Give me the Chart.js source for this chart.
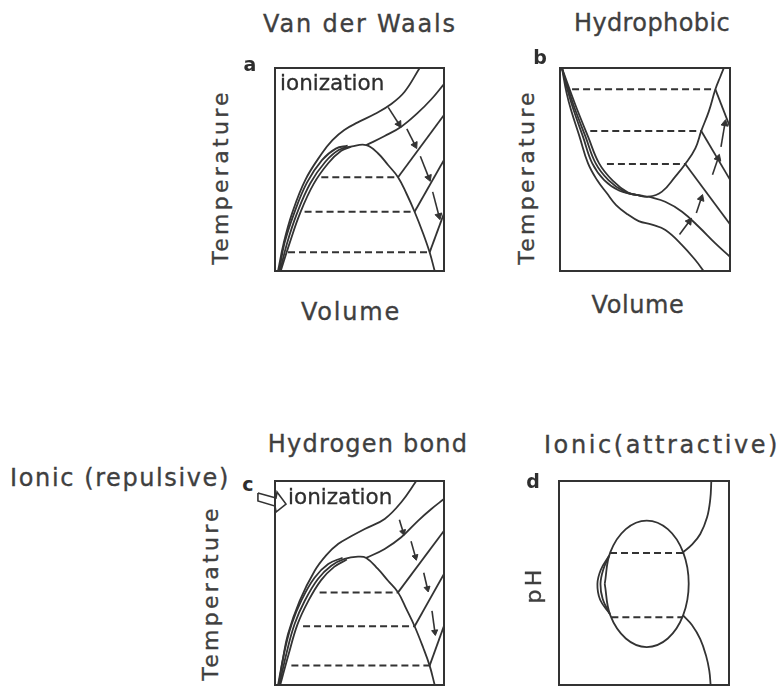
<!DOCTYPE html>
<html>
<head>
<meta charset="utf-8">
<title>Phase diagrams by interaction type</title>
<script src="https://cdn.jsdelivr.net/npm/chart.js"></script>
<style>
  body { margin: 0; width: 782px; height: 687px; position: relative; overflow: hidden; background: #fff;
         font-family: "DejaVu Sans", sans-serif; color: #3f3f3f; }
  canvas { position: absolute; }
  .t { position: absolute; transform: translate(-50%, -50%); white-space: nowrap; line-height: 1; font-size: 24px;
       -webkit-text-stroke: 0.35px #3f3f3f; }
  .r { transform: translate(-50%, -50%) rotate(-90deg); font-size: 22px; letter-spacing: 3.3px; }
  .tag { font-weight: 700; font-size: 19px; color: #2e2e2e; -webkit-text-stroke: 0; }
  .ion { position: absolute; white-space: nowrap; line-height: 1; font-size: 21.5px; color: #2e2e2e;
         transform: translateY(-50%); -webkit-text-stroke: 0.3px #2e2e2e; }
</style>
</head>
<body>

<canvas id="chartA" width="209" height="243" style="left:255px;top:48px"></canvas>
<canvas id="chartB" width="210" height="243" style="left:540px;top:48px"></canvas>
<canvas id="chartC" width="209" height="244" style="left:255px;top:461px"></canvas>
<canvas id="chartD" width="210" height="244" style="left:539px;top:461px"></canvas>

<div class="t" style="left:360px;top:24px;letter-spacing:1.8px">Van der Waals</div>
<div class="t" style="left:652px;top:23px;letter-spacing:0.4px">Hydrophobic</div>
<div class="t tag" style="left:250px;top:64px">a</div>
<div class="t tag" style="left:540px;top:57px">b</div>
<div class="t r" style="left:221px;top:177px">Temperature</div>
<div class="t r" style="left:527px;top:177px">Temperature</div>
<div class="t" style="left:351px;top:312px;letter-spacing:1.8px">Volume</div>
<div class="t" style="left:638px;top:305px;letter-spacing:0.6px">Volume</div>
<div class="ion" style="left:280px;top:83px">ionization</div>

<div class="t" style="left:368px;top:444px;letter-spacing:1.2px">Hydrogen bond</div>
<div class="t" style="left:662px;top:445px;letter-spacing:2.6px">Ionic(attractive)</div>
<div class="t" style="left:120px;top:478px;letter-spacing:1.6px">Ionic (repulsive)</div>
<div class="t tag" style="left:248px;top:484px">c</div>
<div class="t tag" style="left:533px;top:481px">d</div>
<div class="t r" style="left:211px;top:593px">Temperature</div>
<div class="t r" style="left:534px;top:585px">pH</div>
<div class="ion" style="left:288px;top:497px">ionization</div>

<script>
const INK = '#333333';
const PAD = 20;

// a: Van der Waals (volume 0-100 across, temperature 0-100 up)
const aIonization = [[1.8,0],[5.1,13.6],[10.1,28.4],[17.9,44.8],[27.8,58],[34,64.5],[41,69.5],[49,73.2],[59,77.3],[68.8,82.3],[76.7,88.3],[85.6,100]];
const aBinodal = [[3,0],[7.1,13.6],[13,28.4],[20.9,43.2],[29.8,53.8],[37.7,59.6],[45.6,61.4],[54,62],[60.9,58],[66.9,52.2],[72.8,46.2],[77.7,38.3],[82.6,29.2],[87.6,18.6],[91.5,9.2],[94.5,0]];
const aBranchOuter = [[2.5,0],[5.6,13.6],[11.3,28.4],[18.9,43.5],[27.8,54.6],[36,60.3],[43,61.7]];
const aBranchInner = [[3.4,0],[8.6,13.6],[14.8,28.4],[22.8,42.8],[31.6,53.2],[39.2,59.2],[45,61.2]];
const aUpper = [[54,62],[64.9,66.5],[74.7,71.1],[84.6,78],[92.5,84.6],[100,92.1]];
const aRays = [[[72.8,46.2],[100,76.8]], [[82.6,29.2],[100,54.7]], [[91.5,9.2],[100,28.4]]];
const aTies = [[[27.4,46.2],[72.8,46.2]], [[17.5,29.2],[82.6,29.2]], [[7.7,9.2],[91.5,9.2]]];
const aArrows = [[[67,80.6],[73.3,72.4]], [[78,70],[82.8,62.1]], [[86,56.5],[91,46]], [[93.3,39],[97,27.2]]];

// b: Hydrophobic
const bLower = [[1.2,99.8],[3.8,88],[6.5,79.3],[11.5,66.2],[16.5,53],[21.8,44.8],[27.6,38.3],[33,32.5],[40,27.8],[46.3,24.6],[54.1,22.8],[62,20.2],[71.8,12.8],[79.6,5.4],[84.5,0]];
const bBinodal = [[1.2,99.8],[5.5,88],[9,79.3],[15,66.2],[21,53],[28.5,44.8],[38,39],[45,37.5],[52.2,36.6],[60,39.1],[67.8,46.5],[73.7,52.7],[79.6,60.4],[83.1,69],[87.5,78.5],[91.4,89.5],[94.3,95.7],[96.3,99.8]];
const bBranchOuter = [[1.2,99.8],[4.8,88],[8,79.3],[13.5,66.2],[19,53],[26,44.8],[35,39.5],[43,37.8],[49,37]];
const bBranchInner = [[1.2,99.8],[6.3,88],[10.2,79.3],[16.5,66.2],[23,53],[31,44.5],[40,38.6],[46.5,37.2],[52.2,36.6]];
const bMiddle = [[52.2,36.6],[61.9,34.1],[71.8,29.2],[81.6,21.8],[91.4,13.6],[100,7]];
const bRays = [[[91.4,89.5],[100,71]], [[83.1,69],[100,45]], [[73.7,52.7],[100,23]]];
const bTies = [[[7.1,89.5],[91.4,89.5]], [[17.8,69],[83.1,69]], [[27.6,52.7],[73.7,52.7]]];
const bArrows = [[[70.3,18],[76,24.4]], [[80.2,28.6],[83.1,35.8]], [[89.7,47.4],[93,55.6]], [[94.7,61.2],[97,72.6]]];

// c: Hydrogen bond
const cIonization = [[1.8,0],[4.5,12],[7.7,25],[14.6,41.3],[23.5,56],[30.5,63.8],[37.5,69.2],[45,72.9],[53.1,76.5],[64.9,81.4],[74.7,89.6],[83.6,100]];
const cBinodal = [[2.6,0],[6.7,15.2],[11.6,29.9],[17.6,41.3],[25.4,52],[33.3,58.5],[41.2,61.8],[49.1,62.9],[54,62.3],[60.9,56.9],[66.9,51.1],[72.8,45.4],[77.7,37.3],[82.6,28.8],[87.6,18.5],[91.5,9.5],[94.5,0]];
const cBranchOuter = [[2.2,0],[5.3,15.2],[9.9,29.9],[15.7,41.6],[23.4,52.6],[31.5,59.3],[40,62.4]];
const cBranchInner = [[3.1,0],[8.1,15.2],[13.3,29.7],[19.5,40.9],[27.3,51.4],[35,57.9],[42.5,61.5]];
const cUpper = [[54,62.3],[64.9,66.7],[74.7,72.4],[84.6,80.5],[92.5,86.3],[100,91.2]];
const cRays = [[[72.8,45.4],[100,75.6]], [[82.6,28.8],[100,54.4]], [[91.5,9.5],[100,29]]];
const cTies = [[[26.4,45.4],[72.8,45.4]], [[16.6,28.8],[82.6,28.8]], [[9.7,9.5],[91.5,9.5]]];
const cArrows = [[[73.6,81],[75.8,75]], [[80.5,70.5],[83.1,62.8]], [[88,55],[90.2,47.3]], [[92.9,36.3],[94.6,26]]];
const cPointer = [[-10.1,94.1],[0.6,91.7],[1.2,94.6],[6.5,88.7],[0.6,84.8],[0,87.7],[-10.1,90.2],[-10.1,94.1]];

// d: Ionic (attractive), pH up
const dLoop = [[26.9,49.6],[30.2,65.1],[39.3,76.4],[51.6,80.6],[64,76.4],[73,65.1],[76.3,49.6],[73,34.1],[64,22.8],[51.6,18.6],[39.3,22.8],[30.2,34.1],[26.9,49.6]];
const dCrescentOuter = [[29.2,63],[24.6,56.5],[22.6,49.5],[24.2,41.8],[29.8,35]];
const dCrescentInner = [[29.6,63.5],[26,56.5],[24.4,49.5],[25.7,42.2],[30,34.6]];
const dTop = [[73,65.1],[78.2,68.8],[83.1,74],[87.1,82.2],[89,91.2],[89.6,100]];
const dBottom = [[73,34.1],[78.2,29.4],[83.1,22.5],[86.5,14.4],[88.4,7],[89.2,0]];
const dTies = [[[30,64.7],[73,64.7]], [[30.8,33.2],[73,33.2]]];

const pts = arr => arr.map(([x, y]) => ({ x, y }));

function curve(data, extra) {
  return Object.assign({
    data: pts(data), showLine: true, fill: false, tension: 0.4,
    borderColor: INK, borderWidth: 1.8, pointRadius: 0
  }, extra);
}
const straight = seg => curve(seg, { tension: 0 });
const dashed = seg => curve(seg, { tension: 0, borderWidth: 2, borderDash: [7, 4] });

// point the triangle along the segment, in pixel space
function headAngle(ctx) {
  const { x, y } = ctx.chart.scales;
  const d = ctx.dataset.data;
  const dx = x.getPixelForValue(d[1].x) - x.getPixelForValue(d[0].x);
  const dy = y.getPixelForValue(d[1].y) - y.getPixelForValue(d[0].y);
  return Math.atan2(dx, -dy) * 180 / Math.PI;
}
const arrow = (seg, r) => curve(seg, {
  tension: 0, borderWidth: 1.6, pointRadius: [0, r], pointStyle: 'triangle',
  pointBackgroundColor: INK, pointBorderColor: INK, pointBorderWidth: 1, pointRotation: headAngle
});

const frame = {
  id: 'frame',
  beforeDatasetsDraw(chart) {
    const { ctx, chartArea: a } = chart;
    ctx.save();
    ctx.strokeStyle = INK;
    ctx.lineWidth = 2;
    ctx.strokeRect(a.left, a.top, a.right - a.left, a.bottom - a.top);
    ctx.restore();
  }
};

function panel(id, datasets) {
  return new Chart(document.getElementById(id), {
    type: 'scatter',
    data: { datasets },
    options: {
      responsive: false, animation: false, events: [],
      layout: { padding: PAD },
      plugins: { legend: { display: false }, tooltip: { enabled: false } },
      scales: {
        x: { type: 'linear', min: 0, max: 100, display: false },
        y: { type: 'linear', min: 0, max: 100, display: false }
      }
    },
    plugins: [frame]
  });
}

panel('chartA', [
  curve(aIonization), curve(aBinodal), curve(aBranchOuter), curve(aBranchInner), curve(aUpper),
  ...aRays.map(straight), ...aTies.map(dashed), ...aArrows.map(s => arrow(s, 4))
]);

panel('chartB', [
  curve(bLower), curve(bBinodal), curve(bBranchOuter), curve(bBranchInner), curve(bMiddle),
  ...bRays.map(straight), ...bTies.map(dashed), ...bArrows.map(s => arrow(s, 4))
]);

panel('chartC', [
  curve(cIonization), curve(cBinodal), curve(cBranchOuter), curve(cBranchInner), curve(cUpper),
  ...cRays.map(straight), ...cTies.map(dashed), ...cArrows.map(s => arrow(s, 3.5)),
  curve(cPointer, { tension: 0, borderWidth: 1.6, clip: false })
]);

panel('chartD', [
  curve(dLoop), curve(dCrescentOuter), curve(dCrescentInner), curve(dTop), curve(dBottom),
  ...dTies.map(dashed)
]);
</script>
</body>
</html>
